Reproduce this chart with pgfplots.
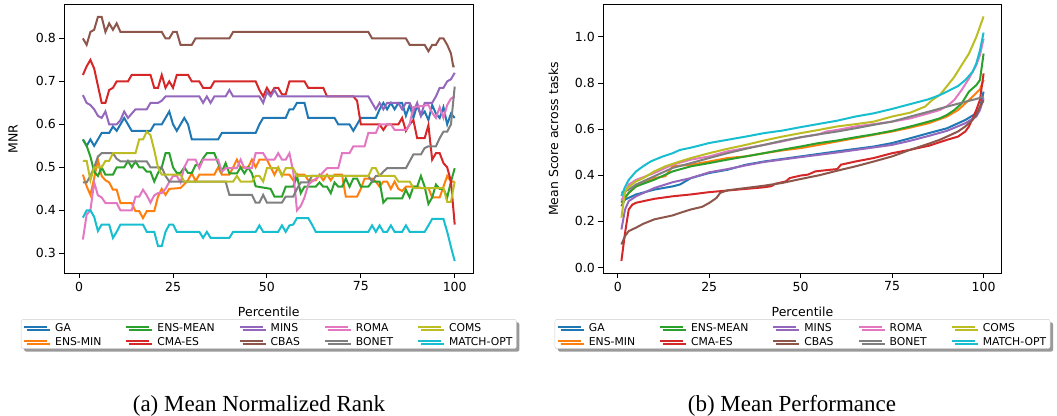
\documentclass[border=0pt]{standalone}
\usepackage{pgfplots}
\pgfplotsset{compat=1.18}
\usepackage{fontspec}
\setmainfont{DejaVu Sans}
\newfontfamily\capfont{Liberation Serif}
\usetikzlibrary{shadows}
\definecolor{c0}{HTML}{1F77B4}
\definecolor{c1}{HTML}{FF7F0E}
\definecolor{c2}{HTML}{2CA02C}
\definecolor{c3}{HTML}{D62728}
\definecolor{c4}{HTML}{9467BD}
\definecolor{c5}{HTML}{8C564B}
\definecolor{c6}{HTML}{E377C2}
\definecolor{c7}{HTML}{7F7F7F}
\definecolor{c8}{HTML}{BCBD22}
\definecolor{c9}{HTML}{17BECF}
\pgfplotsset{
  myax/.style={
    scale only axis, anchor=south west,
    height=268.6pt,
    xmin=-3.95, xmax=104.95,
    xtick={0,25,50,75,100}, xticklabels={0,25,50,75,100},
    tick align=outside, xtick pos=bottom, ytick pos=left,
    major tick length=5pt,
    axis line style={line width=1.1pt},
    every tick/.style={black, line width=1pt},
    tick label style={font=\fontsize{12.5}{14}\selectfont},
    label style={font=\fontsize{12.5}{14}\selectfont},
    xlabel=Percentile,
    xlabel style={at={(axis description cs:0.5,-0.142)}, anchor=center},
    ylabel style={at={(axis description cs:-0.125,0.5)}, anchor=center},
    every axis plot/.append style={line width=2pt},
    legend columns=5,
    legend cell align=left,
    legend image code/.code={\draw[#1, line width=2pt, sharp corners] (0pt,0pt) -- (23pt,0pt);},
    legend style={at={(0.5,-0.171)}, anchor=north, draw=black!20, rounded corners=2pt, fill=white,
      font=\fontsize{10.8}{13}\selectfont, inner sep=2pt, row sep=2.5pt,
      drop shadow={shadow xshift=3pt, shadow yshift=-3pt, fill=black!40, opacity=1},
      /tikz/every even column/.append style={column sep=22pt},
      /tikz/every odd column/.append style={column sep=5pt}},
  },
}
\newcommand{\legtxt}[1]{\raisebox{-2.2pt}{#1}}
\newcommand{\mylegend}{%
  \addlegendimage{c0}\addlegendentry{\legtxt{GA}}
  \addlegendimage{c2}\addlegendentry{\legtxt{ENS-MEAN}}
  \addlegendimage{c4}\addlegendentry{\legtxt{MINS}}
  \addlegendimage{c6}\addlegendentry{\legtxt{ROMA}}
  \addlegendimage{c8}\addlegendentry{\legtxt{COMS}}
  \addlegendimage{c1}\addlegendentry{\legtxt{ENS-MIN}}
  \addlegendimage{c3}\addlegendentry{\legtxt{CMA-ES}}
  \addlegendimage{c5}\addlegendentry{\legtxt{CBAS}}
  \addlegendimage{c7}\addlegendentry{\legtxt{BONET}}
  \addlegendimage{c9}\addlegendentry{\legtxt{MATCH-OPT}}
}
\begin{document}
\begin{tikzpicture}
\path[use as bounding box] (0,0) rectangle (1057pt,415pt);
% ---------------- (a) MNR ----------------
\begin{axis}[myax, at={(64.3pt,141.7pt)}, width=409pt,
  ymin=0.2536, ymax=0.8784, ytick={0.3,0.4,0.5,0.6,0.7,0.8},
  yticklabels={0.3,0.4,0.5,0.6,0.7,0.8}, ylabel=MNR]
% GA
\addplot[c0, forget plot] coordinates {(1,0.565)(2,0.55)(3,0.565)(4,0.55)(5,0.565)(6,0.58)(8,0.58)(9,0.595)(10,0.585)(11,0.60)(12,0.615)(13,0.60)(14,0.585)(19,0.585)(20,0.60)(22,0.60)(23,0.615)(24,0.63)(25,0.60)(26,0.585)(27,0.60)(28,0.615)(29,0.60)(30,0.565)(37,0.565)(38,0.58)(47,0.58)(48,0.60)(49,0.615)(55,0.615)(56,0.635)(57,0.635)(58,0.65)(60,0.65)(61,0.615)(68,0.615)(69,0.60)(72,0.60)(73,0.585)(74,0.60)(75,0.615)(79,0.615)(80,0.635)(81,0.65)(82,0.635)(83,0.65)(84,0.635)(85,0.65)(86,0.65)(87,0.62)(88,0.645)(89,0.615)(90,0.645)(91,0.62)(92,0.63)(93,0.61)(94,0.645)(95,0.625)(96,0.615)(97,0.64)(98,0.60)(99,0.625)(100,0.615)};
% ENS-MIN
\addplot[c1, forget plot] coordinates {(1,0.483)(2,0.456)(3,0.436)(4,0.475)(5,0.518)(6,0.48)(7,0.47)(8,0.465)(9,0.448)(10,0.448)(11,0.417)(14,0.417)(15,0.398)(16,0.398)(17,0.382)(18,0.398)(20,0.398)(21,0.432)(22,0.45)(23,0.436)(24,0.45)(27,0.452)(29,0.47)(30,0.487)(31,0.468)(32,0.483)(36,0.483)(37,0.50)(38,0.483)(40,0.483)(41,0.50)(42,0.518)(43,0.50)(45,0.50)(46,0.518)(47,0.50)(48,0.518)(50,0.518)(51,0.50)(52,0.483)(53,0.50)(54,0.483)(56,0.483)(57,0.47)(58,0.483)(60,0.483)(61,0.47)(63,0.47)(64,0.483)(65,0.47)(66,0.483)(67,0.47)(68,0.483)(70,0.483)(71,0.432)(74,0.432)(75,0.45)(76,0.474)(78,0.474)(79,0.467)(80,0.455)(81,0.467)(82,0.467)(83,0.45)(84,0.467)(85,0.45)(86,0.445)(87,0.455)(90,0.455)(91,0.452)(93,0.452)(94,0.43)(96,0.43)(97,0.455)(98,0.48)(99,0.467)(100,0.467)};
% ENS-MEAN
\addplot[c2, forget plot] coordinates {(1,0.565)(2,0.55)(3,0.525)(4,0.49)(5,0.48)(6,0.50)(7,0.483)(9,0.483)(10,0.50)(12,0.50)(13,0.515)(14,0.50)(15,0.514)(16,0.50)(17,0.50)(18,0.49)(19,0.49)(20,0.467)(21,0.487)(22,0.50)(23,0.533)(24,0.533)(25,0.50)(26,0.487)(27,0.487)(28,0.50)(29,0.487)(30,0.487)(31,0.505)(32,0.505)(33,0.521)(34,0.533)(36,0.533)(37,0.51)(38,0.49)(39,0.51)(40,0.486)(42,0.486)(43,0.50)(44,0.486)(45,0.50)(46,0.486)(47,0.456)(51,0.45)(52,0.432)(54,0.432)(55,0.455)(57,0.455)(58,0.48)(59,0.44)(60,0.455)(63,0.455)(64,0.465)(65,0.455)(66,0.455)(67,0.44)(68,0.465)(69,0.455)(70,0.455)(71,0.474)(72,0.455)(73,0.474)(74,0.474)(75,0.455)(77,0.455)(78,0.467)(80,0.467)(81,0.418)(82,0.428)(86,0.428)(87,0.448)(88,0.43)(89,0.455)(90,0.455)(91,0.48)(92,0.455)(93,0.415)(94,0.43)(95,0.46)(96,0.45)(97,0.45)(98,0.43)(99,0.467)(100,0.498)};
% CMA-ES
\addplot[c3, forget plot] coordinates {(1,0.715)(2,0.735)(3,0.75)(4,0.73)(5,0.69)(6,0.65)(7,0.65)(8,0.68)(9,0.685)(10,0.70)(13,0.70)(14,0.715)(19,0.715)(20,0.685)(21,0.685)(22,0.715)(23,0.685)(24,0.70)(25,0.685)(26,0.715)(29,0.715)(30,0.70)(32,0.70)(33,0.685)(35,0.685)(36,0.70)(47,0.70)(48,0.68)(49,0.665)(50,0.685)(51,0.67)(52,0.685)(53,0.685)(54,0.67)(55,0.67)(56,0.70)(60,0.70)(61,0.685)(65,0.685)(66,0.665)(73,0.665)(74,0.655)(75,0.60)(80,0.60)(81,0.587)(82,0.60)(85,0.60)(86,0.615)(87,0.585)(88,0.60)(89,0.61)(90,0.568)(92,0.568)(93,0.598)(94,0.518)(95,0.533)(96,0.533)(97,0.51)(98,0.50)(99,0.467)(100,0.367)};
% MINS
\addplot[c4, forget plot] coordinates {(1,0.668)(2,0.65)(3,0.645)(4,0.635)(5,0.62)(6,0.615)(7,0.63)(8,0.60)(10,0.60)(11,0.61)(12,0.63)(13,0.615)(14,0.625)(15,0.635)(18,0.635)(19,0.65)(21,0.65)(22,0.655)(23,0.665)(32,0.665)(33,0.65)(34,0.665)(35,0.65)(36,0.665)(39,0.665)(40,0.68)(41,0.665)(48,0.665)(49,0.65)(50,0.675)(51,0.665)(52,0.68)(53,0.665)(77,0.665)(78,0.65)(79,0.635)(80,0.65)(81,0.635)(82,0.65)(85,0.65)(86,0.635)(87,0.65)(88,0.65)(89,0.63)(90,0.65)(91,0.62)(92,0.65)(94,0.65)(95,0.665)(96,0.685)(97,0.685)(98,0.70)(99,0.705)(100,0.72)};
% CBAS
\addplot[c5, forget plot] coordinates {(1,0.80)(2,0.785)(3,0.815)(4,0.82)(5,0.85)(6,0.85)(7,0.815)(8,0.835)(9,0.82)(10,0.835)(11,0.815)(22,0.815)(23,0.80)(24,0.80)(25,0.815)(26,0.815)(27,0.785)(30,0.785)(31,0.80)(40,0.80)(41,0.815)(77,0.815)(78,0.80)(87,0.80)(88,0.785)(92,0.785)(93,0.77)(94,0.785)(95,0.785)(96,0.80)(97,0.80)(98,0.785)(99,0.765)(99.6,0.735)(100,0.735)};
% ROMA
\addplot[c6, forget plot] coordinates {(1,0.332)(2,0.39)(3,0.40)(4,0.465)(5,0.435)(6,0.43)(7,0.417)(10,0.417)(11,0.40)(14,0.40)(15,0.432)(16,0.432)(17,0.448)(18,0.435)(19,0.418)(20,0.435)(21,0.44)(22,0.44)(23,0.45)(24,0.466)(25,0.48)(26,0.48)(27,0.465)(28,0.50)(29,0.518)(31,0.518)(32,0.498)(33,0.518)(37,0.518)(38,0.49)(39,0.498)(42,0.498)(43,0.518)(44,0.498)(46,0.498)(47,0.533)(49,0.533)(50,0.518)(52,0.518)(53,0.533)(54,0.518)(55,0.518)(56,0.533)(57,0.49)(58,0.40)(59,0.41)(60,0.43)(61,0.46)(62,0.467)(64,0.48)(66,0.498)(69,0.498)(70,0.533)(72,0.533)(73,0.549)(76,0.549)(77,0.58)(79,0.58)(80,0.60)(83,0.60)(84,0.587)(87,0.587)(88,0.60)(89,0.64)(93,0.645)(94,0.627)(95,0.615)(96,0.64)(97,0.615)(98,0.645)(99,0.66)(100,0.665)};
% BONET
\addplot[c7, forget plot] coordinates {(1,0.465)(2,0.465)(3,0.48)(4,0.50)(5,0.525)(6,0.533)(9,0.533)(10,0.52)(11,0.514)(18,0.514)(19,0.50)(22,0.50)(23,0.48)(24,0.467)(39,0.467)(40,0.436)(46,0.436)(47,0.418)(48,0.418)(49,0.436)(50,0.418)(54,0.418)(55,0.432)(57,0.432)(58,0.45)(59,0.465)(61,0.465)(62,0.48)(77,0.48)(78,0.467)(79,0.48)(80,0.48)(81,0.49)(82,0.498)(87,0.498)(88,0.514)(89,0.53)(91,0.53)(92,0.545)(93,0.549)(95,0.549)(96,0.568)(97,0.583)(98,0.583)(99,0.60)(100,0.688)};
% COMS
\addplot[c8, forget plot] coordinates {(1,0.515)(2,0.515)(3,0.47)(4,0.50)(6,0.50)(7,0.515)(8,0.515)(9,0.533)(15,0.533)(16,0.565)(17,0.565)(18,0.583)(19,0.575)(20,0.54)(21,0.50)(22,0.483)(27,0.483)(28,0.467)(41,0.467)(42,0.48)(43,0.467)(46,0.467)(47,0.48)(48,0.48)(49,0.467)(50,0.498)(53,0.498)(54,0.48)(55,0.498)(57,0.498)(58,0.48)(77,0.48)(78,0.498)(79,0.498)(80,0.48)(84,0.48)(85,0.467)(88,0.467)(89,0.452)(97,0.452)(98,0.42)(99,0.42)(100,0.467)};
% MATCH-OPT
\addplot[c9, forget plot] coordinates {(1,0.383)(2,0.40)(3,0.40)(4,0.385)(5,0.352)(6,0.367)(8,0.367)(9,0.336)(10,0.35)(11,0.367)(17,0.367)(18,0.35)(20,0.35)(21,0.317)(22,0.317)(23,0.35)(24,0.367)(25,0.367)(26,0.35)(32,0.35)(33,0.336)(34,0.35)(35,0.336)(40,0.336)(41,0.35)(47,0.35)(48,0.365)(49,0.35)(53,0.35)(54,0.365)(55,0.35)(56,0.365)(57,0.367)(58,0.382)(61,0.382)(62,0.367)(63,0.35)(77,0.35)(78,0.365)(79,0.35)(80,0.365)(81,0.35)(82,0.35)(83,0.365)(84,0.35)(86,0.35)(87,0.365)(88,0.35)(92,0.35)(93,0.365)(94,0.38)(97,0.38)(98,0.35)(99,0.315)(100,0.282)};
\mylegend
\end{axis}
% ---------------- (b) Mean performance ----------------
\begin{axis}[myax, at={(603.3pt,141.7pt)}, width=398.4pt,
  ymin=-0.025, ymax=1.14, ytick={0,0.2,0.4,0.6,0.8,1.0},
  yticklabels={0.0,0.2,0.4,0.6,0.8,1.0}, ylabel=Mean Score across tasks]
% GA
\addplot[c0, forget plot] coordinates {(1,0.266)(2,0.295)(5,0.317)(10,0.338)(15,0.352)(17,0.36)(20,0.388)(25,0.41)(30,0.424)(35,0.446)(40,0.46)(50,0.482)(60,0.504)(70,0.525)(75,0.54)(80,0.561)(85,0.583)(90,0.604)(95,0.64)(98,0.669)(99,0.69)(100,0.763)};
% ENS-MIN
\addplot[c1, forget plot] coordinates {(1,0.28)(3,0.324)(5,0.352)(10,0.388)(13,0.396)(15,0.439)(20,0.446)(25,0.46)(30,0.475)(35,0.482)(40,0.496)(45,0.508)(50,0.518)(55,0.532)(60,0.547)(65,0.561)(70,0.576)(75,0.59)(80,0.607)(85,0.626)(90,0.655)(93,0.683)(95,0.712)(97,0.741)(99,0.773)(100,0.813)};
% ENS-MEAN
\addplot[c2, forget plot] coordinates {(1,0.283)(3,0.324)(5,0.352)(10,0.381)(15,0.417)(20,0.439)(25,0.453)(30,0.468)(35,0.482)(40,0.496)(45,0.511)(50,0.525)(55,0.54)(60,0.551)(65,0.565)(70,0.578)(75,0.593)(80,0.612)(85,0.633)(88,0.647)(90,0.662)(92,0.683)(94,0.712)(96,0.763)(98,0.791)(99,0.813)(100,0.928)};
% CMA-ES
\addplot[c3, forget plot] coordinates {(1,0.029)(2,0.151)(3,0.252)(4,0.273)(5,0.281)(10,0.298)(15,0.309)(20,0.317)(25,0.327)(30,0.334)(35,0.341)(40,0.348)(42,0.353)(43,0.363)(46,0.374)(47,0.388)(50,0.399)(52,0.403)(54,0.417)(58,0.424)(60,0.427)(61,0.446)(65,0.46)(70,0.475)(75,0.496)(80,0.511)(85,0.528)(90,0.554)(93,0.568)(95,0.59)(96,0.612)(97,0.647)(98,0.683)(99,0.727)(100,0.842)};
% MINS
\addplot[c4, forget plot] coordinates {(1,0.165)(2,0.252)(3,0.288)(5,0.309)(10,0.345)(15,0.37)(20,0.388)(25,0.413)(30,0.427)(35,0.443)(40,0.458)(50,0.479)(60,0.499)(70,0.521)(75,0.532)(80,0.55)(85,0.571)(90,0.593)(95,0.626)(98,0.655)(99,0.683)(100,0.734)};
% CBAS
\addplot[c5, forget plot] coordinates {(1,0.10)(2,0.137)(3,0.158)(5,0.173)(7,0.19)(10,0.209)(15,0.226)(17,0.237)(20,0.252)(23,0.263)(25,0.28)(27,0.302)(28,0.324)(30,0.335)(35,0.345)(40,0.355)(45,0.367)(50,0.384)(55,0.40)(60,0.42)(65,0.439)(70,0.46)(75,0.482)(80,0.511)(85,0.537)(88,0.554)(90,0.568)(93,0.59)(95,0.612)(97,0.64)(98,0.662)(99,0.698)(100,0.725)};
% ROMA
\addplot[c6, forget plot] coordinates {(1,0.29)(3,0.36)(5,0.38)(10,0.41)(15,0.446)(20,0.468)(25,0.482)(30,0.504)(35,0.518)(40,0.532)(45,0.547)(50,0.565)(55,0.578)(57,0.59)(60,0.597)(65,0.612)(70,0.622)(75,0.633)(80,0.647)(85,0.669)(88,0.683)(90,0.70)(92,0.727)(94,0.77)(96,0.82)(98,0.878)(99,0.921)(100,0.993)};
% BONET
\addplot[c7, forget plot] coordinates {(1,0.324)(3,0.338)(5,0.36)(10,0.396)(15,0.432)(20,0.453)(25,0.475)(30,0.496)(35,0.515)(40,0.532)(45,0.55)(50,0.565)(55,0.578)(60,0.59)(65,0.604)(70,0.619)(75,0.633)(80,0.655)(85,0.676)(90,0.698)(95,0.719)(98,0.731)(100,0.741)};
% COMS
\addplot[c8, forget plot] coordinates {(1,0.216)(2,0.33)(3,0.35)(5,0.374)(7,0.388)(10,0.417)(13,0.439)(17,0.46)(20,0.475)(25,0.496)(30,0.515)(35,0.532)(40,0.551)(45,0.568)(50,0.583)(55,0.597)(60,0.612)(65,0.622)(70,0.633)(75,0.655)(80,0.672)(84,0.698)(86,0.727)(88,0.748)(90,0.787)(92,0.827)(94,0.878)(96,0.928)(98,1.0)(100,1.089)};
% MATCH-OPT
\addplot[c9, forget plot] coordinates {(1,0.31)(2,0.35)(3,0.38)(5,0.417)(7,0.44)(9,0.46)(12,0.48)(15,0.496)(17,0.51)(20,0.52)(25,0.54)(30,0.554)(35,0.568)(40,0.583)(45,0.594)(50,0.609)(55,0.623)(60,0.637)(65,0.655)(70,0.669)(75,0.688)(80,0.709)(85,0.73)(88,0.748)(90,0.763)(93,0.787)(95,0.813)(97,0.849)(98,0.885)(99,0.942)(100,1.019)};
\mylegend
\end{axis}
\node[font=\capfont\fontsize{23}{26}\selectfont] at (259pt,9pt) {(a) Mean Normalized Rank};
\node[font=\capfont\fontsize{23}{26}\selectfont] at (792pt,9pt) {(b) Mean Performance};
\end{tikzpicture}
\end{document}
